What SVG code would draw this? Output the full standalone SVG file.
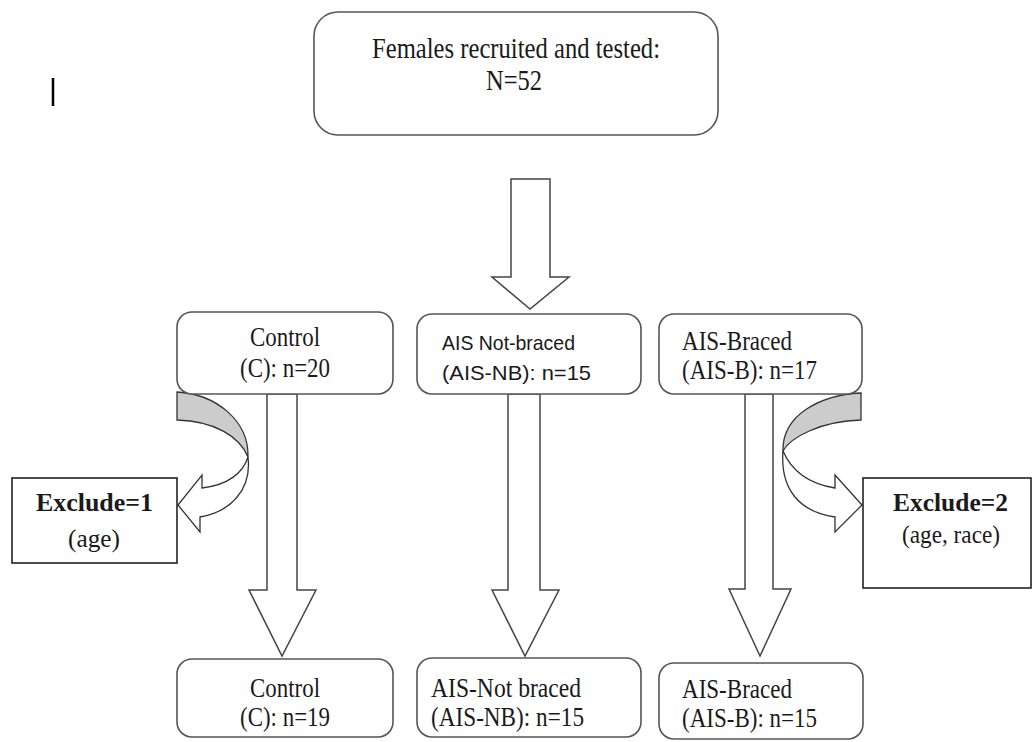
<svg xmlns="http://www.w3.org/2000/svg" width="1033" height="742" viewBox="0 0 1033 742">
  <style>
    .rbox { fill: #ffffff; stroke: #555555; stroke-width: 1.6; }
    .xbox { fill: #ffffff; stroke: #222222; stroke-width: 1.6; }
    .arrow { fill: #ffffff; stroke: #444444; stroke-width: 1.5; stroke-linejoin: miter; }
    .band { fill: #cccccc; stroke: #333333; stroke-width: 1.3; }
    .curve { fill: #ffffff; stroke: #333333; stroke-width: 1.3; }
    .serif { font-family: "Liberation Serif", "Times New Roman", serif; fill: #1a1a1a; }
    .sans { font-family: "Liberation Sans", Arial, sans-serif; fill: #1a1a1a; font-size: 21px; }
    .t27 { font-size: 27px; }
    .t28 { font-size: 28.5px; }
    .t26 { font-size: 26px; }
    .bold { font-weight: bold; font-size: 26px; }
  </style>
  <rect x="0" y="0" width="1033" height="742" fill="#ffffff"/>

  <!-- text cursor mark -->
  <line x1="53" y1="78" x2="53" y2="106" stroke="#000000" stroke-width="2.5"/>

  <g id="connectors">
    <path class="arrow" d="M511,179 L550,179 L550,277 L569,277 L530,309 L492,277 L511,277 Z"/>
    <path class="arrow" d="M267,394 L297,394 L297,590 L316,590 L282,656 L249,590 L267,590 Z"/>
    <path class="arrow" d="M508,394 L540,394 L540,590 L559,590 L525,656 L492,590 L508,590 Z"/>
    <path class="arrow" d="M745,394 L773,394 L773,589 L791,589 L760,656 L729,589 L745,589 Z"/>
    <!-- left curved exclusion arrow -->
    <path class="band" d="M177,392 C215,394 249,420 248,457 C240,437 215,421 177,420 Z"/>
    <path class="curve" d="M248,457 C243,473 228,485 202,488 L202,475 L178,505 L200,532 L200,517 C230,512 252,490 248,457 Z"/>
    <!-- right curved exclusion arrow -->
    <path class="band" d="M861,393 C820,395 782,415 783,451 C790,438 820,421 861,420 Z"/>
    <path class="curve" d="M783,451 C792,472 810,484 835,488 L835,475 L862,505 L835,532 L835,517 C800,512 780,490 783,451 Z"/>
  </g>

  <g id="node-recruited">
    <rect class="rbox" x="314" y="12" width="404" height="123" rx="24" ry="24"/>
    <text class="serif t28" x="372" y="58" textLength="288" lengthAdjust="spacingAndGlyphs">Females recruited and tested:</text>
    <text class="serif t28" x="486" y="90" textLength="56" lengthAdjust="spacingAndGlyphs">N=52</text>
  </g>

  <g id="node-control-1">
    <rect class="rbox" x="177" y="312" width="216" height="82" rx="15" ry="15"/>
    <text class="serif t27" x="250" y="346" textLength="70" lengthAdjust="spacingAndGlyphs">Control</text>
    <text class="serif t27" x="240" y="377" textLength="90" lengthAdjust="spacingAndGlyphs">(C): n=20</text>
  </g>

  <g id="node-aisnb-1">
    <rect class="rbox" x="417" y="314" width="224" height="80" rx="15" ry="15"/>
    <text class="sans" x="442" y="350" textLength="133" lengthAdjust="spacingAndGlyphs">AIS Not-braced</text>
    <text class="sans" x="442" y="380" textLength="149" lengthAdjust="spacingAndGlyphs">(AIS-NB): n=15</text>
  </g>

  <g id="node-aisb-1">
    <rect class="rbox" x="659" y="314" width="203" height="80" rx="15" ry="15"/>
    <text class="serif t27" x="682" y="350" textLength="110" lengthAdjust="spacingAndGlyphs">AIS-Braced</text>
    <text class="serif t27" x="682" y="379" textLength="135" lengthAdjust="spacingAndGlyphs">(AIS-B): n=17</text>
  </g>

  <g id="node-exclude-1">
    <rect class="xbox" x="12" y="478" width="165" height="85"/>
    <text class="serif bold" x="36" y="511" textLength="117" lengthAdjust="spacingAndGlyphs">Exclude=1</text>
    <text class="serif t26" x="68" y="547" textLength="52" lengthAdjust="spacingAndGlyphs">(age)</text>
  </g>

  <g id="node-exclude-2">
    <rect class="xbox" x="863" y="478" width="168" height="110"/>
    <text class="serif bold" x="893" y="511" textLength="115" lengthAdjust="spacingAndGlyphs">Exclude=2</text>
    <text class="serif t26" x="902" y="543" textLength="98" lengthAdjust="spacingAndGlyphs">(age, race)</text>
  </g>

  <g id="node-control-2">
    <rect class="rbox" x="177" y="659" width="216" height="78" rx="15" ry="15"/>
    <text class="serif t27" x="250" y="697" textLength="70" lengthAdjust="spacingAndGlyphs">Control</text>
    <text class="serif t27" x="240" y="726" textLength="90" lengthAdjust="spacingAndGlyphs">(C): n=19</text>
  </g>

  <g id="node-aisnb-2">
    <rect class="rbox" x="417" y="658" width="224" height="79" rx="15" ry="15"/>
    <text class="serif t27" x="431" y="697" textLength="150" lengthAdjust="spacingAndGlyphs">AIS-Not braced</text>
    <text class="serif t27" x="431" y="726" textLength="153" lengthAdjust="spacingAndGlyphs">(AIS-NB): n=15</text>
  </g>

  <g id="node-aisb-2">
    <rect class="rbox" x="659" y="663" width="204" height="76" rx="15" ry="15"/>
    <text class="serif t27" x="682" y="698" textLength="110" lengthAdjust="spacingAndGlyphs">AIS-Braced</text>
    <text class="serif t27" x="682" y="727" textLength="135" lengthAdjust="spacingAndGlyphs">(AIS-B): n=15</text>
  </g>
</svg>
